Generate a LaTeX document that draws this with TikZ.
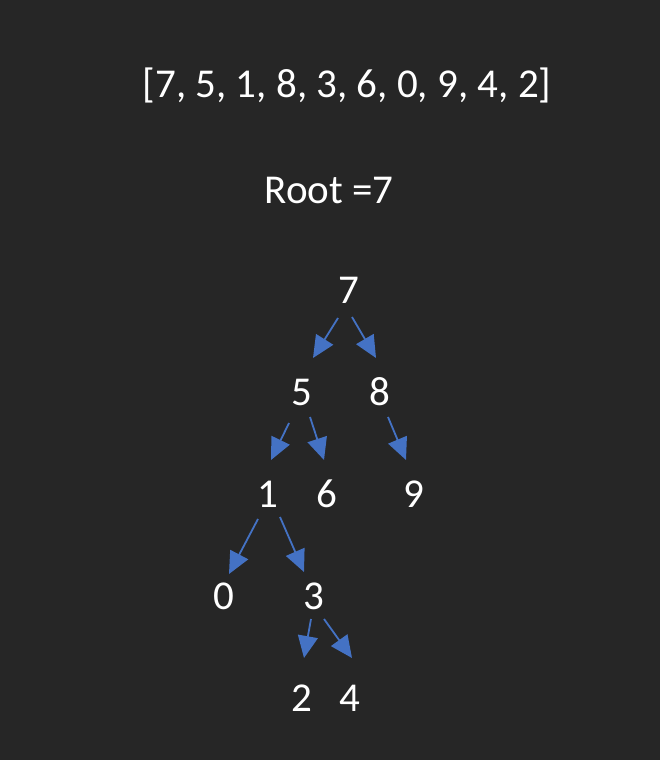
\documentclass[tikz,border=0pt]{standalone}
\usepackage{fontspec}
\setmainfont{Carlito}
\usetikzlibrary{arrows.meta,calc}
\definecolor{bg}{HTML}{262626}
\definecolor{arrblue}{HTML}{4472C4}
\begin{document}
\begin{tikzpicture}[x=1pt,y=-1pt,
  txt/.style={text=white,font=\fontsize{41}{49}\selectfont,inner sep=0pt},
  arr/.style={draw=arrblue,line width=1.8pt,-{Triangle[length=22pt,width=20pt]}}]
\fill[bg] (0,0) rectangle (660,760);
\useasboundingbox (0,0) rectangle (660,760);
\node[txt,anchor=base] (list) at (347,97) {[7, 5, 1, 8, 3, 6, 0, 9, 4, 2]};
\node[txt,anchor=base] (root) at (329,203) {Root =7};
\node[txt] (n7) at (349,290) {7};
\node[txt] (n5) at (302,392) {5};
\node[txt] (n8) at (380,392) {8};
\node[txt] (n1) at (268,494) {1};
\node[txt] (n6) at (327,494) {6};
\node[txt] (n9) at (414,494) {9};
\node[txt] (n0) at (224,596) {0};
\node[txt] (n3) at (314,596) {3};
\node[txt] (n2) at (302,698) {2};
\node[txt] (n4) at (350,698) {4};
\draw[arr] ($(n7)+(-11,28)$) -- ($(n5)+(11,-34)$);
\draw[arr] ($(n7)+(3,27)$) -- ($(n8)+(-4,-34)$);
\draw[arr] ($(n5)+(-13,31)$) -- ($(n1)+(3,-34)$);
\draw[arr] ($(n5)+(8,25)$) -- ($(n6)+(-3,-34)$);
\draw[arr] ($(n8)+(8,25)$) -- ($(n9)+(-8,-34)$);
\draw[arr] ($(n1)+(-10,25)$) -- ($(n0)+(5,-22)$);
\draw[arr] ($(n1)+(12,23)$) -- ($(n3)+(-10,-24)$);
\draw[arr] ($(n3)+(-3,23)$) -- ($(n2)+(2,-40)$);
\draw[arr] ($(n3)+(10,23)$) -- ($(n4)+(2,-40)$);
\end{tikzpicture}
\end{document}
